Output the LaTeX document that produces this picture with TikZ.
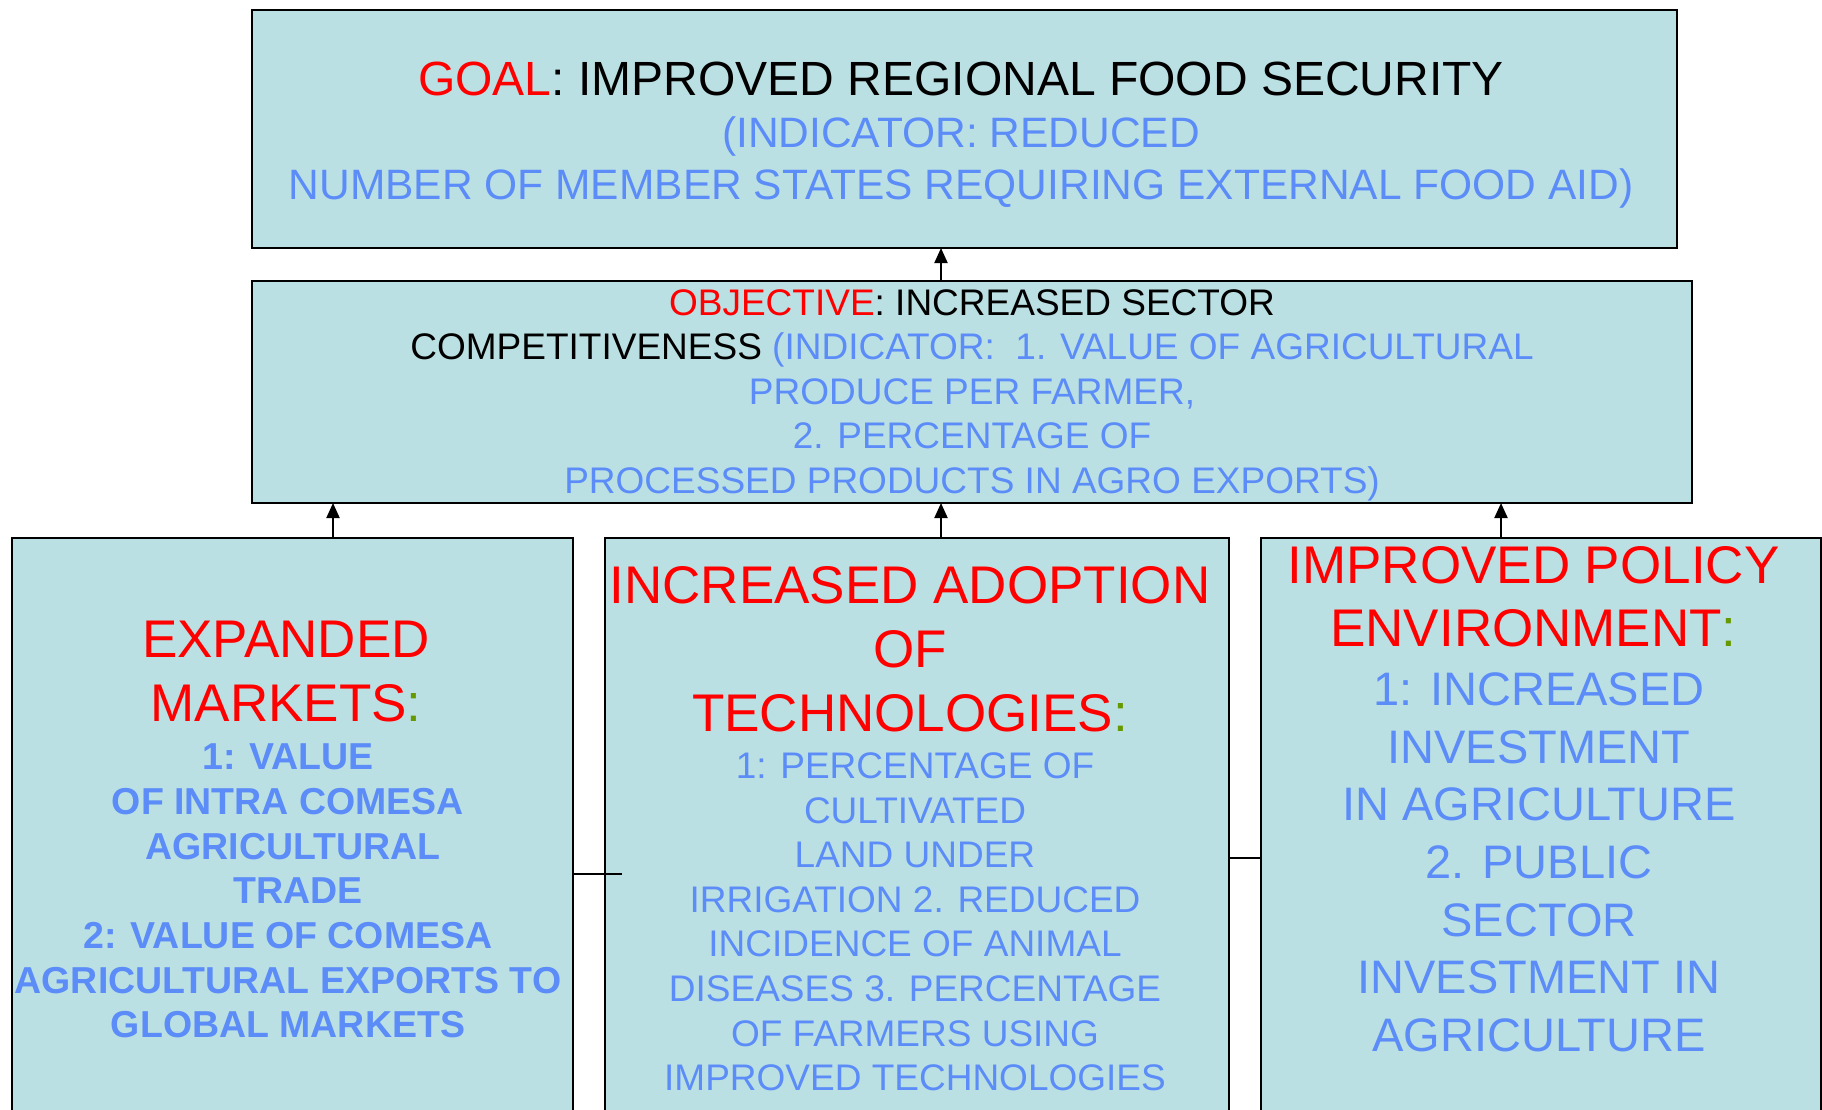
\documentclass[tikz,border=0pt]{standalone}
\usepackage{fontspec}
\setmainfont{Liberation Sans}
\usetikzlibrary{arrows.meta}
\definecolor{boxfill}{RGB}{187,224,227}
\definecolor{indblue}{RGB}{91,140,248}
\definecolor{headred}{RGB}{255,0,0}
\definecolor{colongreen}{RGB}{102,153,0}
\tikzset{
  box/.style={draw=black, line width=2.5pt, fill=boxfill, rectangle, anchor=north west, inner sep=0pt, outer sep=0pt},
  txt/.style={anchor=base, align=center, inner sep=0pt, text=indblue},
  arr/.style={line width=2pt, -{Triangle[length=15pt,width=13pt]}},
  link/.style={line width=2pt},
}
\begin{document}
\begin{tikzpicture}[x=1pt,y=-1pt]
            \useasboundingbox (0,0) rectangle (1822,1109);
            \clip (0,0) rectangle (1822,1109);
            \node[box, minimum width=1425pt, minimum height=238pt] (goal) at (252,10) {};
            \node[box, minimum width=1440pt, minimum height=222pt] (objective) at (252,281) {};
            \node[box, minimum width=561pt, minimum height=600pt] (markets) at (12,538) {};
            \node[box, minimum width=624pt, minimum height=600pt] (adoption) at (605,538) {};
            \node[box, minimum width=560pt, minimum height=600pt] (policy) at (1261,538) {};
            \coordinate (colL) at (333,0);
            \coordinate (colM) at (941,0);
            \coordinate (colR) at (1501,0);
            \coordinate (linkL) at (622,874);
            \coordinate (linkR) at (0,858);
            % texts sit on the baseline of their last line
            \node[txt, font=\fontsize{42.5}{52}\selectfont] (goaltext) at (961,199.5)
              {{\fontsize{48}{52}\selectfont\textcolor{headred}{GOAL}\textcolor{black}{: IMPROVED REGIONAL FOOD SECURITY}}\\
               (INDICATOR: REDUCED\\
               NUMBER OF MEMBER STATES REQUIRING EXTERNAL FOOD AID)};
            \node[txt, font=\fontsize{37}{44.5}\selectfont] (objtext) at (972,493)
              {\textcolor{headred}{OBJECTIVE}\textcolor{black}{: INCREASED SECTOR}\\
               \textcolor{black}{COMPETITIVENESS} (INDICATOR:\ \ 1. VALUE OF AGRICULTURAL\\
               PRODUCE PER FARMER,\\
               2. PERCENTAGE OF\\
               PROCESSED PRODUCTS IN AGRO EXPORTS)};
            \node[txt, text=headred, font=\fontsize{53}{64}\selectfont] (marketshead) at (286,721)
              {EXPANDED\\MARKETS\textcolor{colongreen}{:}};
            \node[txt, font=\fontsize{37.5}{44.7}\selectfont\bfseries] (marketsind) at (288,1037.8)
              {1: VALUE\\OF INTRA COMESA\\\hspace*{10pt}AGRICULTURAL\\\hspace*{20pt}TRADE\\2: VALUE OF COMESA\\AGRICULTURAL EXPORTS TO\\GLOBAL MARKETS};
            \node[txt, text=headred, font=\fontsize{53}{64}\selectfont] (adoptionhead) at (910,731)
              {INCREASED ADOPTION\\OF\\TECHNOLOGIES\textcolor{colongreen}{:}};
            \node[txt, font=\fontsize{37}{44.6}\selectfont] (adoptionind) at (915,1090.7)
              {1: PERCENTAGE OF\\CULTIVATED\\LAND UNDER\\IRRIGATION 2. REDUCED\\INCIDENCE OF ANIMAL\\DISEASES 3. PERCENTAGE\\OF FARMERS USING\\IMPROVED TECHNOLOGIES};
            \node[txt, text=headred, font=\fontsize{53}{63}\selectfont] (policyhead) at (1533.5,646.5)
              {IMPROVED POLICY\\ENVIRONMENT\textcolor{colongreen}{:}};
            \node[txt, font=\fontsize{47}{57.7}\selectfont] (policyind) at (1539,1051.6)
              {1: INCREASED\\INVESTMENT\\IN AGRICULTURE\\2. PUBLIC\\SECTOR\\INVESTMENT IN\\AGRICULTURE};
            \draw[arr] (objective.north -| colM) -- (goal.south -| colM);
            \draw[arr] (markets.north -| colL) -- (objective.south -| colL);
            \draw[arr] (adoption.north -| colM) -- (objective.south -| colM);
            \draw[arr] (policy.north -| colR) -- (objective.south -| colR);
            \draw[link] (markets.east |- linkL) -- (linkL);
            \draw[link] (adoption.east |- linkR) -- (policy.west |- linkR);
\end{tikzpicture}
\end{document}
